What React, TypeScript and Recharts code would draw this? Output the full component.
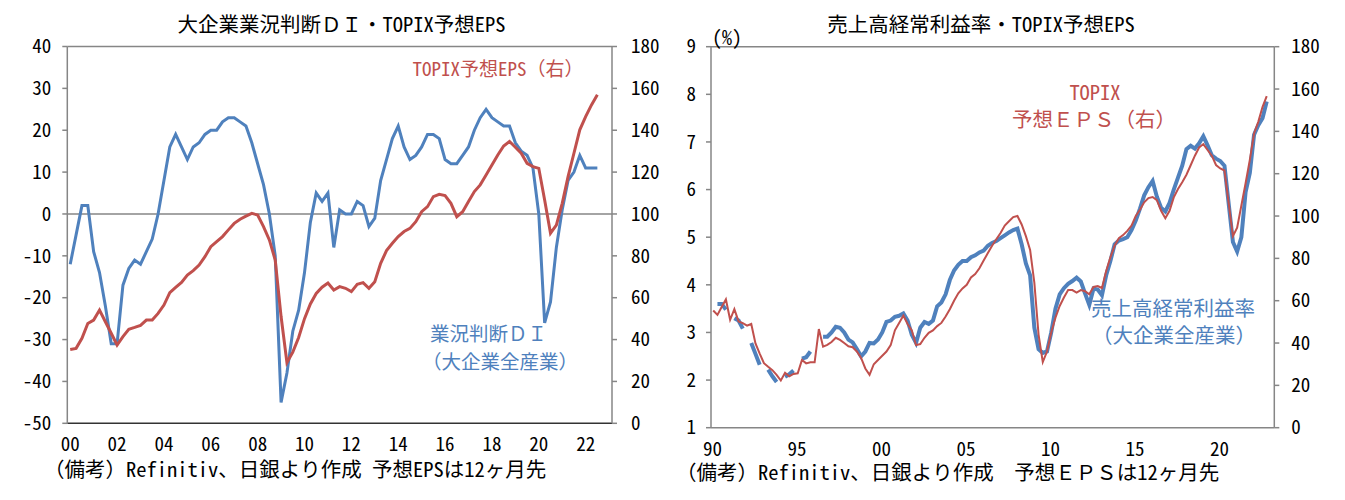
import { LineChart, Line, XAxis, YAxis, ReferenceLine } from "recharts";

const FONT = "'Noto Sans Mono CJK JP', 'Noto Sans CJK JP', sans-serif";
const BLUE = "#4F81BD";
const RED = "#C0504D";
const AXIS = "#868686";

// left chart: quarterly from 2000Q1 to 2022Q3
const DI_START_YEAR = 2000;
const TANKAN_DI = [
  -12, -5, 2, 2, -9, -14, -22, -31, -31, -17, -13, -11, -12, -9, -6, 0,
  8, 16, 19, 16, 13, 16, 17, 19, 20, 20, 22, 23, 23, 22, 21, 17,
  12, 7, 0, -10, -45, -38, -28, -23, -14, -2, 5, 3, 5, -8, 1, 0,
  0, 3, 2, -3, -1, 8, 13, 18, 21, 16, 13, 14, 16, 19, 19, 18,
  13, 12, 12, 14, 16, 20, 23, 25, 23, 22, 21, 21, 17, 15, 14, 11,
  0, -26, -21, -8, 1, 8, 10, 14, 11, 11, 11,
];
const TOPIX_EPS_Q = [
  35.3, 35.8, 40.6, 47.7, 49.3, 54.1, 48.5, 43, 37.4, 41.4, 44.9, 45.8, 46.8, 49.3, 49.3, 52.5,
  56.5, 62.4, 64.9, 67.3, 70.8, 72.9, 75.6, 79.6, 84.4, 86.8, 89.2, 92.4, 95.5, 97.5, 99, 100.3,
  99.5, 94, 87.6, 78, 51, 29, 34, 41, 50, 57, 62, 65, 67, 63.7, 65.3, 64.5,
  62.9, 66.4, 67.2, 64.5, 67.6, 76.4, 82.5, 86, 89.2, 91.6, 93.1, 96.3, 101.1, 103.5, 108.3, 109.4,
  108.8, 105.1, 98.7, 101.1, 105.9, 110.7, 113.9, 118.6, 123.4, 128.2, 132.5, 134.6, 131.9, 129, 124.2, 122.6,
  121.8, 106.7, 90.8, 94.7, 105.1, 117.8, 129, 140.2, 146.5, 152.1, 156.9,
];
const DI_TICKS = [-50, -40, -30, -20, -10, 0, 10, 20, 30, 40];
const EPS_TICKS = [0, 20, 40, 60, 80, 100, 120, 140, 160, 180];
const LEFT_YEARS = [2000, 2002, 2004, 2006, 2008, 2010, 2012, 2014, 2016, 2018, 2020, 2022];

// right chart: quarterly from 1990Q1 to 2022Q4 (gaps where the series is missing)
const MARGIN_START_YEAR = 1990;
const PROFIT_MARGIN = [
  null, 3.6, 3.6, 3.48, null, 3.3, 3.25, 3.08, null, 2.78, 2.55, 2.32, null, 2.22, 2.08, 1.96,
  null, 2.07, 2.12, 2.2, null, 2.45, 2.48, 2.6, null, null, 2.91, 2.91, 3.0, 3.12, 3.1, 3.0,
  2.85, 2.79, 2.65, 2.5, 2.6, 2.78, 2.77, 2.85, 3.0, 3.22, 3.25, 3.33, 3.35, 3.4, 3.25, 2.95,
  2.78, 3.1, 3.22, 3.18, 3.25, 3.55, 3.63, 3.8, 4.1, 4.3, 4.42, 4.5, 4.5, 4.58, 4.62, 4.68,
  4.72, 4.82, 4.88, 4.92, 4.98, 5.04, 5.1, 5.15, 5.18, 4.85, 4.45, 4.2, 3.1, 2.65, 2.57, 2.6,
  3.0, 3.5, 3.8, 3.93, 4.02, 4.08, 4.15, 4.07, 3.82, 3.58, 3.92, 3.9, 3.78, 4.2, 4.5, 4.85,
  4.93, 4.96, 5.0, 5.15, 5.35, 5.6, 5.88, 6.05, 6.18, 5.85, 5.62, 5.54, 5.72, 6.0, 6.25, 6.5,
  6.85, 6.92, 6.86, 6.97, 7.12, 6.93, 6.72, 6.65, 6.6, 6.5, 5.7, 4.9, 4.7, 5.0, 5.95, 6.35,
  7.15, 7.35, 7.5, 7.85,
];
const TOPIX_EPS_LONG = [
  55.4, 53.3, 57, 60.6, 51, 56, 50.2, 49.4, 48.2, 49, 39.8, 35, 30.5, 28.8, 27.2, 25,
  22.3, 25.9, 24.3, 25.4, 25.7, 32, 30.4, 30.9, 30.9, 46.6, 38.3, 39.1, 40.5, 42.5, 41.5, 40,
  38.5, 38, 36, 33, 28, 25, 30, 32, 34, 36, 39, 46, 49.5, 53, 49, 46,
  39, 39.5, 42.5, 44.8, 46, 48, 49.5, 52.5, 56, 60, 63.5, 65.8, 67.5, 71, 72.6, 75.3,
  79, 82.5, 86, 89, 92, 95.5, 97.5, 99.5, 100, 96, 90.5, 84, 68.5, 44, 31, 36,
  45, 52, 57.5, 61.5, 65, 65, 63.8, 65, 64.5, 63, 66.5, 66.9, 66, 74, 80.5, 86,
  89.5, 91, 93, 95.5, 100, 103, 106.5, 108.5, 109, 107.5, 102.5, 99, 102.5, 108.8, 112.8, 116,
  119.5, 124, 128.5, 132.4, 134, 131.2, 128.5, 124.1, 122.5, 121.5, 106, 90.5, 94.5, 105, 115.5, 126.5,
  139, 144.5, 151.5, 156.7,
];
const PCT_TICKS = [1, 2, 3, 4, 5, 6, 7, 8, 9];
const RIGHT_YEARS = [1990, 1995, 2000, 2005, 2010, 2015, 2020];

const yy = (v: number) => String(Math.floor(v) % 100).padStart(2, "0");

const tickText = { fill: "#000", fontSize: 19, fontFamily: FONT };
const axisStyle = { stroke: AXIS, strokeWidth: 1.5 };

function Label({ x, y, color = "#000", size = 19, center = false, children }: any) {
  return (
    <div
      style={{
        position: "absolute",
        left: x,
        top: y,
        color,
        fontSize: size,
        fontFamily: FONT,
        lineHeight: 1,
        whiteSpace: "nowrap",
        transform: center ? "translateX(-50%)" : undefined,
      }}
    >
      {children}
    </div>
  );
}

function TankanChart() {
  const rows = TANKAN_DI.map((di, i) => ({
    t: DI_START_YEAR + i / 4 + 0.125,
    di,
    eps: TOPIX_EPS_Q[i],
  }));
  return (
    <LineChart width={670} height={500} data={rows} margin={{ top: 46.5, right: 0, bottom: 46.7, left: 0 }}>
      <XAxis
        type="number"
        dataKey="t"
        domain={[2000, 2023.25]}
        ticks={LEFT_YEARS.map((y) => y + 0.125)}
        tickFormatter={yy}
        height={30}
        tickLine={false}
        tickSize={0}
        tickMargin={14.5}
        axisLine={{ stroke: "#333", strokeWidth: 1.5 }}
        tick={tickText}
      />
      <YAxis
        yAxisId="l"
        domain={[-50, 40]}
        ticks={DI_TICKS}
        width={67.3}
        tickSize={5}
        tickMargin={11}
        axisLine={axisStyle}
        tickLine={axisStyle}
        tick={tickText}
      />
      <YAxis
        yAxisId="r"
        orientation="right"
        domain={[0, 180]}
        ticks={EPS_TICKS}
        width={58}
        tickSize={5}
        tickMargin={14}
        axisLine={axisStyle}
        tickLine={axisStyle}
        tick={{ ...tickText, textAnchor: "start" }}
      />
      <ReferenceLine yAxisId="l" y={0} stroke={AXIS} strokeWidth={1.5} />
      <ReferenceLine yAxisId="l" y={40} stroke={AXIS} strokeWidth={1.5} />
      <Line yAxisId="l" dataKey="di" stroke={BLUE} strokeWidth={3} dot={false} isAnimationActive={false} />
      <Line yAxisId="r" dataKey="eps" stroke={RED} strokeWidth={3} dot={false} isAnimationActive={false} />
    </LineChart>
  );
}

function MarginChart() {
  const rows = PROFIT_MARGIN.map((pm, k) => ({
    t: MARGIN_START_YEAR + k / 4 + 1 / 24,
    pm,
    eps: TOPIX_EPS_LONG[k],
  }));
  return (
    <LineChart width={675} height={500} data={rows} margin={{ top: 46.7, right: 0, bottom: 42.3, left: 0 }}>
      <XAxis
        type="number"
        dataKey="t"
        domain={[1989.91, 2023.24]}
        ticks={RIGHT_YEARS}
        tickFormatter={yy}
        height={30}
        tickLine={false}
        tickSize={0}
        tickMargin={15}
        axisLine={axisStyle}
        tick={tickText}
      />
      <YAxis
        yAxisId="l"
        domain={[1, 9]}
        ticks={PCT_TICKS}
        width={41}
        tickSize={5}
        tickMargin={10}
        axisLine={axisStyle}
        tickLine={axisStyle}
        tick={tickText}
      />
      <YAxis
        yAxisId="r"
        orientation="right"
        domain={[0, 180]}
        ticks={EPS_TICKS}
        width={70.7}
        tickSize={5}
        tickMargin={12}
        axisLine={axisStyle}
        tickLine={axisStyle}
        tick={{ ...tickText, textAnchor: "start" }}
      />
      <ReferenceLine yAxisId="l" y={9} stroke={AXIS} strokeWidth={1.5} />
      <Line yAxisId="l" dataKey="pm" stroke={BLUE} strokeWidth={4} dot={false} isAnimationActive={false} />
      <Line yAxisId="r" dataKey="eps" stroke={RED} strokeWidth={2} dot={false} isAnimationActive={false} />
    </LineChart>
  );
}

export default function App() {
  return (
    <div style={{ position: "relative", width: 1345, height: 500, background: "#fff", fontFamily: FONT }}>
      <style>{"body{margin:0}"}</style>
      <div style={{ position: "absolute", left: 0, top: 0 }}>
        <TankanChart />
      </div>
      <div style={{ position: "absolute", left: 670, top: 0 }}>
        <MarginChart />
      </div>

      <Label x={341.5} y={12.5} size={20.5} center>大企業業況判断ＤＩ・TOPIX予想EPS</Label>
      <Label x={498} y={58} color={RED} center>TOPIX予想EPS（右）</Label>
      <Label x={430} y={323} color={BLUE} size={19.5}>業況判断ＤＩ</Label>
      <Label x={422} y={351} color={BLUE} size={19.5}>（大企業全産業）</Label>
      <Label x={44} y={457.5} size={20.5}>（備考）Refinitiv、日銀より作成 予想EPSは12ヶ月先</Label>

      <Label x={981} y={12.5} size={20.5} center>売上高経常利益率・TOPIX予想EPS</Label>
      <Label x={712} y={27} size={20}>(%)</Label>
      <Label x={1095} y={80.5} color={RED} size={20.5} center>TOPIX</Label>
      <Label x={1094} y={108} color={RED} size={20.5} center>予想ＥＰＳ（右）</Label>
      <Label x={1173} y={296.5} color={BLUE} size={20.5} center>売上高経常利益率</Label>
      <Label x={1174} y={324} color={BLUE} size={20.5} center>（大企業全産業）</Label>
      <Label x={676} y={461} size={20.5}>（備考）Refinitiv、日銀より作成　予想ＥＰＳは12ヶ月先</Label>
    </div>
  );
}
